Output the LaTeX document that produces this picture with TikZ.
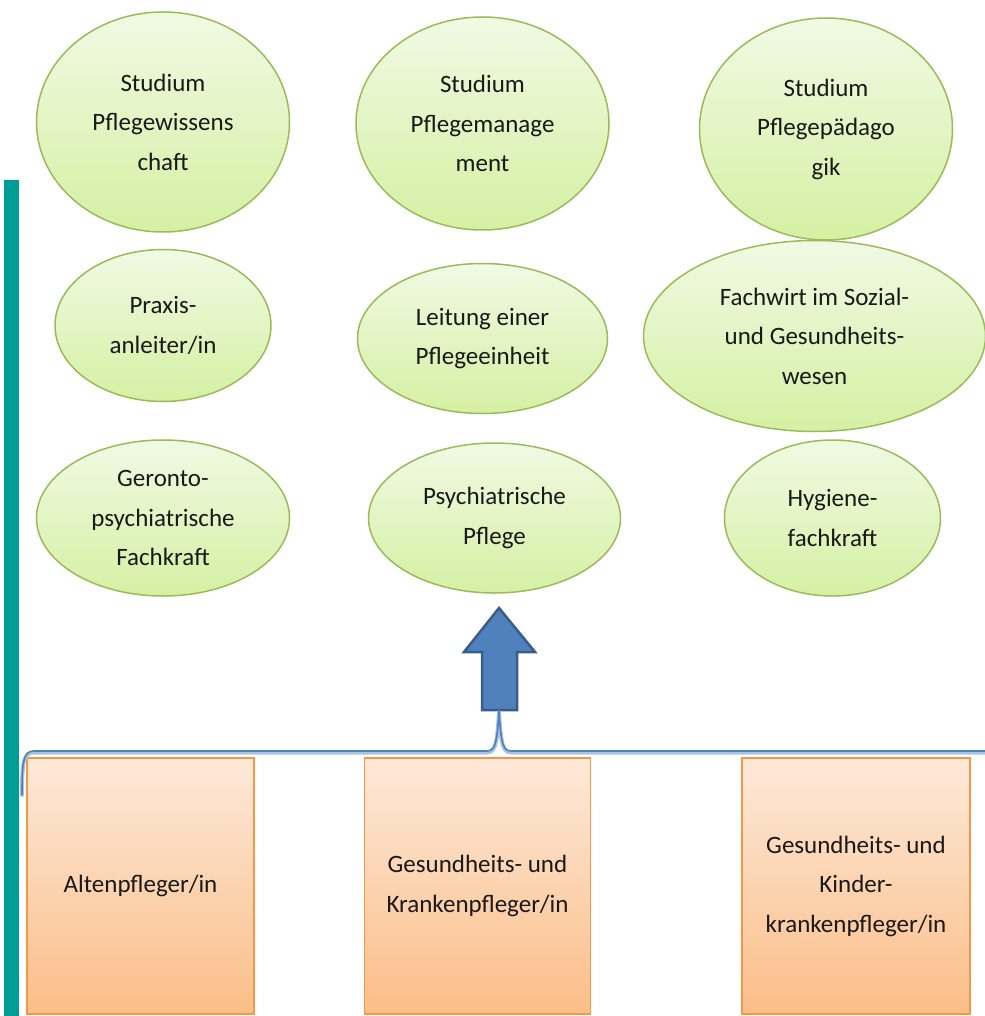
\documentclass[tikz,border=0pt]{standalone}
\usepackage{fontspec}
\setmainfont{Carlito}
\usetikzlibrary{positioning,shapes.geometric}

\definecolor{ellTop}{HTML}{F0FAE4}
\definecolor{ellBottom}{HTML}{D5F0A3}
\definecolor{ellBorder}{HTML}{9BBB59}
\definecolor{boxTop}{HTML}{FDE9D9}
\definecolor{boxBottom}{HTML}{FBBE88}
\definecolor{boxBorder}{HTML}{F79646}
\definecolor{barTeal}{HTML}{009C96}
\definecolor{arrowFill}{HTML}{4F81BD}
\definecolor{arrowBorder}{HTML}{385D8A}
\definecolor{braceLight}{HTML}{A9C3E3}

\begin{document}
\begin{tikzpicture}
[x=1pt, y=-1pt, font=\fontsize{25}{39.5}\selectfont,
% STYLES
every node/.style={align=center, text=black!90},
% The study style is used for the ellipses (studies and further training)
study/.style={ellipse, draw=ellBorder, line width=1.5pt, top color=ellTop, bottom color=ellBottom, inner sep=0pt, minimum width=253pt, minimum height=220pt},
% The basic style is used for the three basic trainings
basic/.style={rectangle, draw=boxBorder, line width=1.5pt, top color=boxTop, bottom color=boxBottom, inner sep=0pt, minimum width=227pt, minimum height=256pt}]

\useasboundingbox (0,0) rectangle (984,1016);

% left bar
\fill[barTeal] (4,180) rectangle (19,1016);

% Draw studies
\node [study] (studwiss) at (163,122) {Studium\\Pflegewissens\\chaft};
\node [study, minimum height=213pt, right=65pt of studwiss, yshift=-1.5pt] (studmgmt) {Studium\\Pflegemanage\\ment};
\node [study, minimum height=222pt, right=89pt of studmgmt, yshift=-5.5pt] (studpaed) {Studium\\Pflegepädago\\gik};

% further training
\node [study, minimum width=216pt, minimum height=152pt, below=16pt of studwiss] (praxis) {Praxis-\\anleiter/in};
\node [study, minimum width=253pt, minimum height=156pt, below=37pt of praxis] (geronto) {Geronto-\\psychiatrische\\Fachkraft};

\node [study, minimum width=250pt, minimum height=150pt, below=32pt of studmgmt] (leitung) {Leitung einer\\Pflegeeinheit};
\node [study, minimum width=252pt, minimum height=150pt, below=28pt of leitung, xshift=12pt] (psych) {Psychiatrische\\Pflege};

\node [study, minimum width=342pt, minimum height=191pt, below=-1pt of studpaed, xshift=-11.5pt] (fachwirt) {Fachwirt im Sozial-\\und Gesundheits-\\wesen};
\node [study, minimum width=216pt, minimum height=156pt, below=7pt of fachwirt, xshift=18pt] (hygiene) {Hygiene-\\fachkraft};

% basic trainings
\node [basic] (alten) at (140.5,886) {Altenpfleger/in};
\node [basic, minimum width=226pt, right=109pt of alten] (gkp) {Gesundheits- und\\Krankenpfleger/in};
\node [basic, minimum width=228pt, right=150pt of gkp] (gkkp) {Gesundheits- und\\Kinder-\\krankenpfleger/in};

%%%%%%%%%%%%%%%

% block arrow
\draw[arrowBorder, fill=arrowFill, line width=2.5pt, line join=miter]
(499,608) -- (535,652) -- (517,652) -- (517,710) -- (482,710) -- (482,652) -- (464,652) -- cycle;
\coordinate (arrowfoot) at (499,710);

% brace
\draw[arrowFill, line width=1.6pt,
preaction={draw=braceLight, line width=4pt, transform canvas={yshift=-1.5pt}}]
(22,795) .. controls (22,762) and (23,751) .. (34,751) -- (486,751)
.. controls (494,751) and (497,748) .. (arrowfoot)
.. controls (501,748) and (504,751) .. (512,751) -- (986,751);

\end{tikzpicture}
\end{document}
